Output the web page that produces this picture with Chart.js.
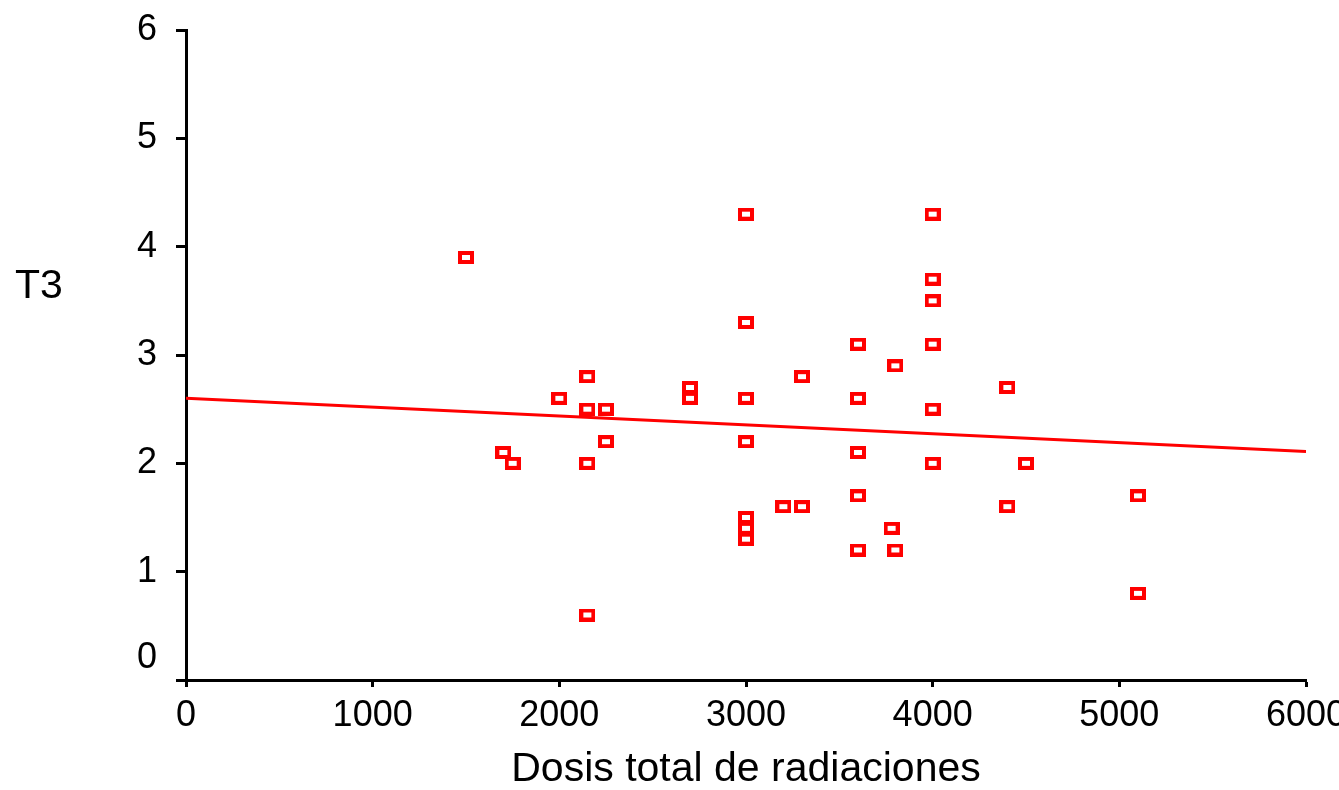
<!DOCTYPE html>
<html>
<head>
<meta charset="utf-8">
<script src="https://cdn.jsdelivr.net/npm/chart.js@4/dist/chart.umd.min.js"></script>
<style>
  body { margin: 0; background: #fff; }
  canvas { display: block; }
</style>
</head>
<body>
<canvas id="scatterChart" width="1339" height="790"></canvas>
<script>
// dose (x) and T3 (y) for each patient
let dosis = [1500, 1700, 1750, 2000, 2150, 2150, 2150, 2150, 2250, 2250,
  2700, 2700, 3000, 3000, 3000, 3000, 3000, 3000, 3000, 3200,
  3300, 3300, 3600, 3600, 3600, 3600, 3600, 3780, 3800, 3800,
  4000, 4000, 4000, 4000, 4000, 4000, 4400, 4400, 4500, 5100, 5100];
let t3 = [3.9, 2.1, 2.0, 2.6, 2.8, 2.5, 2.0, 0.6, 2.5, 2.2,
  2.7, 2.6, 4.3, 3.3, 2.6, 2.2, 1.5, 1.4, 1.3, 1.6,
  1.6, 2.8, 3.1, 2.6, 2.1, 1.7, 1.2, 1.4, 2.9, 1.2,
  4.3, 3.7, 3.5, 3.1, 2.5, 2.0, 2.7, 1.6, 2.0, 1.7, 0.8];

// fitted line end points
let lineX = [0, 6000];
let lineY = [2.6, 2.11];

let xTicks = [0, 1000, 2000, 3000, 4000, 5000, 6000];
let yTicks = [0, 1, 2, 3, 4, 5, 6];

let xTitle = "Dosis total de radiaciones";
let yTitle = "T3";

const red = "#ff0000";
const fontFamily = "'Liberation Sans', Arial, sans-serif";

// open rectangle marker
let marker = document.createElement("canvas");
marker.width = 16;
marker.height = 13;
let mctx = marker.getContext("2d");
mctx.strokeStyle = red;
mctx.lineWidth = 4;
mctx.strokeRect(2, 2, 12, 9);

let points = dosis.map(function (d, i) {
  return { x: d, y: t3[i] };
});
let linePoints = lineX.map(function (d, i) {
  return { x: d, y: lineY[i] };
});

// horizontal y title on the left
const yTitlePlugin = {
  id: "yTitlePlugin",
  afterDraw(chart) {
    let ctx = chart.ctx;
    ctx.save();
    ctx.fillStyle = "#000";
    ctx.font = "41px " + fontFamily;
    ctx.textAlign = "center";
    ctx.textBaseline = "middle";
    ctx.fillText(yTitle, 39, 287);
    ctx.restore();
  },
};

const config = {
  type: "scatter",
  data: {
    datasets: [
      {
        label: "T3",
        data: points,
        pointStyle: marker,
        pointRadius: 7,
        pointHoverRadius: 7,
        showLine: false,
      },
      {
        label: "fit",
        type: "line",
        data: linePoints,
        borderColor: red,
        borderWidth: 3,
        pointRadius: 0,
        fill: false,
      },
    ],
  },
  options: {
    responsive: false,
    animation: false,
    layout: { padding: { top: 30, right: 33, left: 0, bottom: 0 } },
    plugins: {
      legend: { display: false },
      tooltip: { enabled: false },
    },
    scales: {
      x: {
        type: "linear",
        min: 0,
        max: 6000,
        afterBuildTicks: function (scale) {
          scale.ticks = xTicks.map(function (v) { return { value: v }; });
        },
        afterFit: function (scale) {
          scale.height = 110;
          scale.paddingLeft = 0;
          scale.paddingRight = 0;
        },
        grid: { drawOnChartArea: false, drawTicks: true, tickLength: 7, tickWidth: 3, color: "#000" },
        border: { color: "#000", width: 3 },
        ticks: {
          color: "#000",
          padding: 7,
          maxRotation: 0,
          font: { family: fontFamily, size: 36 },
          callback: function (value) {
            return String(value);
          },
        },
        title: {
          display: true,
          text: xTitle,
          color: "#000",
          padding: { top: 0, bottom: 0 },
          font: { family: fontFamily, size: 41, lineHeight: 1.0 },
        },
      },
      y: {
        type: "linear",
        min: 0,
        max: 6,
        afterBuildTicks: function (scale) {
          scale.ticks = yTicks.map(function (v) { return { value: v }; });
        },
        afterFit: function (scale) {
          scale.width = 186;
          scale.paddingTop = 0;
          scale.paddingBottom = 0;
        },
        grid: { drawOnChartArea: false, drawTicks: true, tickLength: 10, tickWidth: 3, color: "#000" },
        border: { color: "#000", width: 3 },
        ticks: {
          color: "#000",
          padding: 19,
          font: { family: fontFamily, size: 36 },
          callback: function (value) {
            // the zero label sits a bit higher, clear of the x axis
            if (value === 0) return ["0", ""];
            return String(value);
          },
        },
      },
    },
  },
  plugins: [yTitlePlugin],
};

const myChart = new Chart(document.getElementById("scatterChart"), config);
</script>
</body>
</html>
